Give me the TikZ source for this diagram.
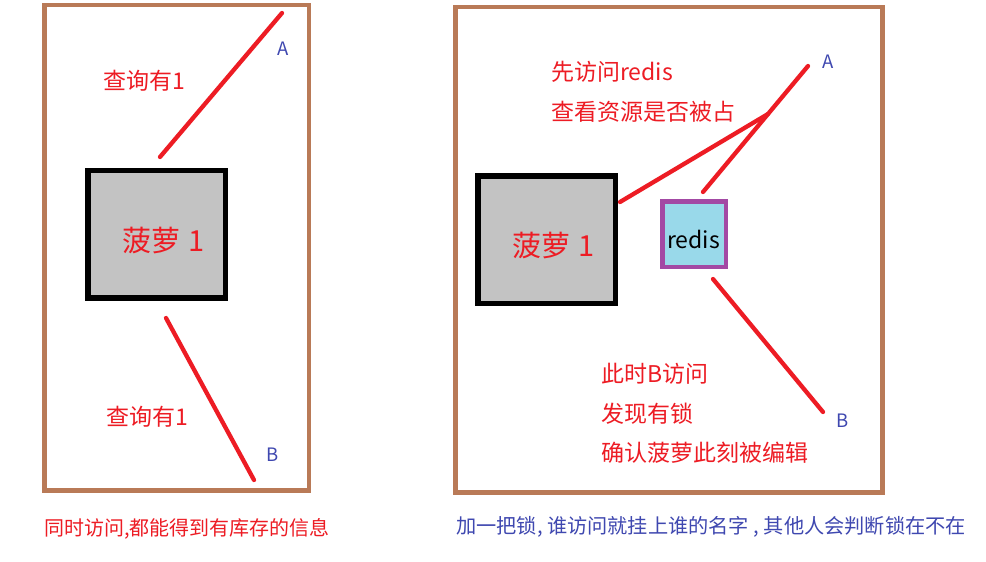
\documentclass[tikz,border=0pt]{standalone}
\usepackage{fontspec}
\setmainfont{Noto Sans CJK SC}
\definecolor{frameC}{HTML}{B97A57}
\definecolor{redC}{HTML}{ED1C24}
\definecolor{blueC}{HTML}{3F48B0}
\definecolor{grayC}{HTML}{C3C3C3}
\definecolor{redisFill}{HTML}{99D9EA}
\definecolor{redisDraw}{HTML}{A349A4}
\tikzset{
  frame/.style={draw=frameC, line width=4.5pt, rectangle, inner sep=0pt, outer sep=0pt},
  fruit/.style={draw=black, fill=grayC, line width=5.5pt, rectangle, inner sep=0pt, outer sep=0pt},
  redisbox/.style={draw=redisDraw, fill=redisFill, line width=4.5pt, rectangle, inner sep=0pt, outer sep=0pt},
  link/.style={draw=redC, line width=4.3pt, line cap=round},
  redtxt/.style={text=redC, font=\fontsize{23pt}{27pt}\selectfont, inner sep=0pt, anchor=base west},
  bigtxt/.style={text=redC, font=\fontsize{29pt}{33pt}\selectfont, inner sep=0pt, anchor=base west},
  lettr/.style={text=blueC, font=\fontsize{18.5pt}{21pt}\selectfont, inner sep=0pt, anchor=base west},
  capred/.style={text=redC, font=\fontsize{20pt}{24pt}\selectfont, inner sep=0pt, anchor=base west},
  capblue/.style={text=blueC, font=\fontsize{20.2pt}{24pt}\selectfont, inner sep=0pt, anchor=base west},
}
\begin{document}
\begin{tikzpicture}[x=1pt,y=-1pt]
\useasboundingbox (0,0) rectangle (986,562);
\fill[white] (0,0) rectangle (986,562);
% frames
\node[frame, minimum width=264.5pt, minimum height=485.5pt] (fL) at (176.75,247.75) {};
\node[frame, minimum width=427pt, minimum height=485.5pt] (fR) at (669,249.75) {};
% left panel
\node[fruit, minimum width=137.5pt, minimum height=127.5pt] (boxL) at (156.5,234.4) {};
\node[bigtxt] (tL) at (122,251) {菠萝\hspace{0.3em}1};
\coordinate (aL1) at (160,157);
\coordinate (aL2) at (282,13);
\coordinate (bL1) at (166,318);
\coordinate (bL2) at (254,480);
\draw[link] (aL1) -- (aL2);
\draw[link] (bL1) -- (bL2);
\node[lettr] (AL) at (277,55) {A};
\node[lettr] (BL) at (266,461) {B};
\node[redtxt] (qL1) at (103,89) {查询有1};
\node[redtxt] (qL2) at (106,425) {查询有1};
\node[capred] (capL) at (44,535) {同时访问,都能得到有库存的信息};
% right panel
\node[fruit, minimum width=137.5pt, minimum height=127.5pt] (boxR) at (546.5,239.5) {};
\node[bigtxt] (tR) at (512,256) {菠萝\hspace{0.3em}1};
\node[redisbox, minimum width=63.5pt, minimum height=65.5pt] (redis) at (694,234) {};
\node[anchor=base west, inner sep=0pt, font=\fontsize{23pt}{27pt}\selectfont] (redisT) at (667,248) {redis};
\coordinate (rA1) at (703,192);
\coordinate (rA2) at (808,66);
\coordinate (kA1) at (620,202);
\coordinate (kA2) at (768,114);
\coordinate (rB1) at (713,279);
\coordinate (rB2) at (823,412);
\draw[link] (rA1) -- (rA2);
\draw[link] (kA1) -- (kA2);
\draw[link] (rB1) -- (rB2);
\node[lettr] (AR) at (822,68) {A};
\node[lettr] (BR) at (836,427) {B};
\node[redtxt] (s1) at (551,80) {先访问redis};
\node[redtxt] (s2) at (551,120) {查看资源是否被占};
\node[redtxt] (s3) at (601,382) {此时B访问};
\node[redtxt] (s4) at (601,422) {发现有锁};
\node[redtxt] (s5) at (601,461) {确认菠萝此刻被编辑};
\node[capblue] (capR) at (456,533) {加一把锁, 谁访问就挂上谁的名字 , 其他人会判断锁在不在};
\end{tikzpicture}
\end{document}
